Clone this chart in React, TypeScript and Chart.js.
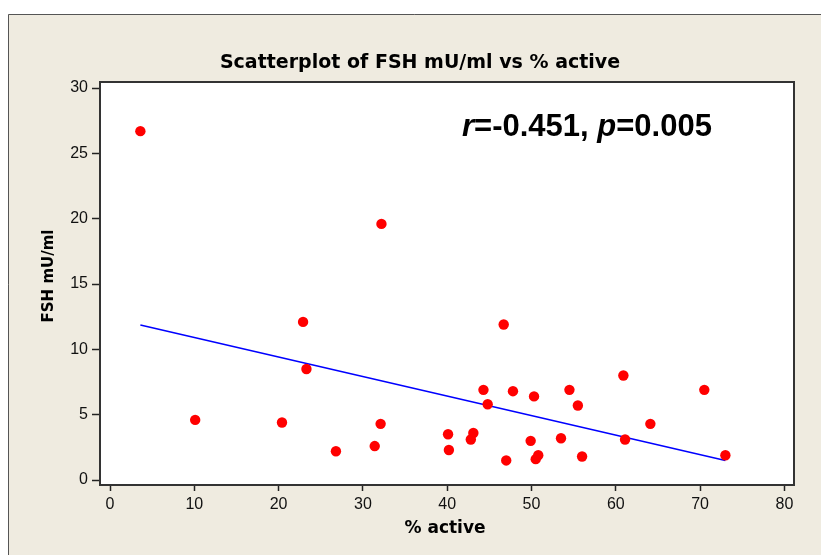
import React, { useEffect, useRef } from "react";
import { Chart, registerables } from "chart.js";

Chart.register(...registerables);

// ---- data ----
const activePct = [
  3.6, 10.1, 20.4, 22.9, 23.3, 26.8, 31.4, 32.1, 32.2, 40.1, 40.2, 42.8, 43.1,
  44.3, 44.8, 46.7, 47.0, 47.8, 49.9, 50.3, 50.5, 50.8, 53.5, 54.5, 55.5, 56.0,
  60.9, 61.1, 64.1, 70.5, 73.0,
];
const fshValues = [
  26.7, 4.6, 4.4, 12.1, 8.5, 2.2, 2.6, 4.3, 19.6, 3.5, 2.3, 3.1, 3.6, 6.9, 5.8,
  11.9, 1.5, 6.8, 3.0, 6.4, 1.6, 1.9, 3.2, 6.9, 5.7, 1.8, 8.0, 3.1, 4.3, 6.9,
  1.9,
];
const fitX = [3.6, 73.0];
const fitY = [11.86, 1.49];

const xTicks = [0, 10, 20, 30, 40, 50, 60, 70, 80];
const yTicks = [0, 5, 10, 15, 20, 25, 30];

const chartTitle = "Scatterplot of FSH mU/ml vs % active";
const xTitle = "% active";
const yTitle = "FSH mU/ml";
const statR = "-0.451";
const statP = "0.005";

const BEIGE = "rgb(239,235,224)";

const decorPlugin = {
  id: "decor",
  beforeDraw(chart: any) {
    const { ctx, chartArea: a, width, height } = chart;
    ctx.save();
    ctx.fillStyle = "#ffffff";
    ctx.fillRect(0, 0, width, height);
    ctx.fillStyle = BEIGE;
    ctx.fillRect(8, 14, width - 8, height - 14);
    ctx.strokeStyle = "#555555";
    ctx.lineWidth = 1;
    ctx.beginPath();
    ctx.moveTo(8.5, height);
    ctx.lineTo(8.5, 14.5);
    ctx.lineTo(width, 14.5);
    ctx.stroke();
    ctx.fillStyle = "#ffffff";
    ctx.fillRect(a.left, a.top, a.right - a.left, a.bottom - a.top);
    ctx.restore();
  },
  afterDraw(chart: any) {
    const { ctx, chartArea: a } = chart;
    ctx.save();
    // frame
    ctx.strokeStyle = "#333333";
    ctx.lineWidth = 2;
    ctx.strokeRect(a.left, a.top, a.right - a.left, a.bottom - a.top);

    // title
    ctx.fillStyle = "#000000";
    ctx.textAlign = "center";
    ctx.textBaseline = "alphabetic";
    ctx.font = "bold 19px 'DejaVu Sans'";
    ctx.fillText(chartTitle, 420, 68);

    // x axis title
    ctx.font = "bold 17px 'DejaVu Sans'";
    ctx.fillText(xTitle, 445, 533);

    // y axis title
    ctx.save();
    ctx.translate(53, 276);
    ctx.rotate(-Math.PI / 2);
    ctx.font = "bold 15px 'DejaVu Sans'";
    ctx.fillText(yTitle, 0, 0);
    ctx.restore();

    // statistics annotation
    const segs: [string, boolean][] = [
      ["r", true],
      ["=" + statR + ", ", false],
      ["p", true],
      ["=" + statP, false],
    ];
    ctx.textAlign = "left";
    let x = 462;
    for (const [t, it] of segs) {
      ctx.font = (it ? "italic " : "") + "bold 31px 'Liberation Sans'";
      ctx.fillText(t, x, 136);
      x += ctx.measureText(t).width;
    }
    ctx.restore();
  },
};

export default function App() {
  const ref = useRef<HTMLCanvasElement>(null);
  useEffect(() => {
    if (!ref.current) return;
    const tickFont = { family: "'Liberation Sans'", size: 16 };
    const chart = new Chart(ref.current, {
      type: "scatter",
      data: {
        datasets: [
          {
            type: "scatter",
            data: activePct.map((v, i) => ({ x: v, y: fshValues[i] })),
            backgroundColor: "#ff0000",
            borderWidth: 0,
            pointRadius: 5.2,
            pointHoverRadius: 5.2,
            order: 1,
          },
          {
            type: "line",
            data: fitX.map((v, i) => ({ x: v, y: fitY[i] })),
            borderColor: "#0000ff",
            borderWidth: 1.5,
            pointRadius: 0,
            showLine: true,
            fill: false,
            order: 2,
          } as any,
        ],
      },
      options: {
        animation: false,
        responsive: false,
        devicePixelRatio: 1,
        events: [],
        layout: { padding: { left: 0, right: 27, top: 82, bottom: 30 } },
        plugins: {
          legend: { display: false },
          title: { display: false },
          tooltip: { enabled: false },
        },
        scales: {
          x: {
            type: "linear",
            min: -1.19,
            max: 81.14,
            afterBuildTicks: (s: any) => {
              s.ticks = xTicks.map((v) => ({ value: v }));
            },
            afterFit: (s: any) => {
              s.height = 40;
            },
            border: { display: false },
            grid: {
              drawOnChartArea: false,
              drawTicks: true,
              tickLength: 6,
              tickColor: "#222222",
              tickWidth: 1.5,
            },
            ticks: {
              font: tickFont,
              color: "#111111",
              padding: 4,
              maxRotation: 0,
              autoSkip: false,
            },
          },
          y: {
            type: "linear",
            min: -0.38,
            max: 30.46,
            afterBuildTicks: (s: any) => {
              s.ticks = yTicks.map((v) => ({ value: v }));
            },
            afterFit: (s: any) => {
              s.width = 100;
            },
            border: { display: false },
            grid: {
              drawOnChartArea: false,
              drawTicks: true,
              tickLength: 8,
              tickColor: "#222222",
              tickWidth: 1.5,
            },
            ticks: {
              font: tickFont,
              color: "#111111",
              padding: 4,
              autoSkip: false,
            },
          },
        },
      },
      plugins: [decorPlugin],
    } as any);
    return () => chart.destroy();
  }, []);
  return (
    <div style={{ position: "absolute", left: 0, top: 0, width: 821, height: 555 }}>
      <canvas ref={ref} width={821} height={555} style={{ display: "block" }} />
    </div>
  );
}
